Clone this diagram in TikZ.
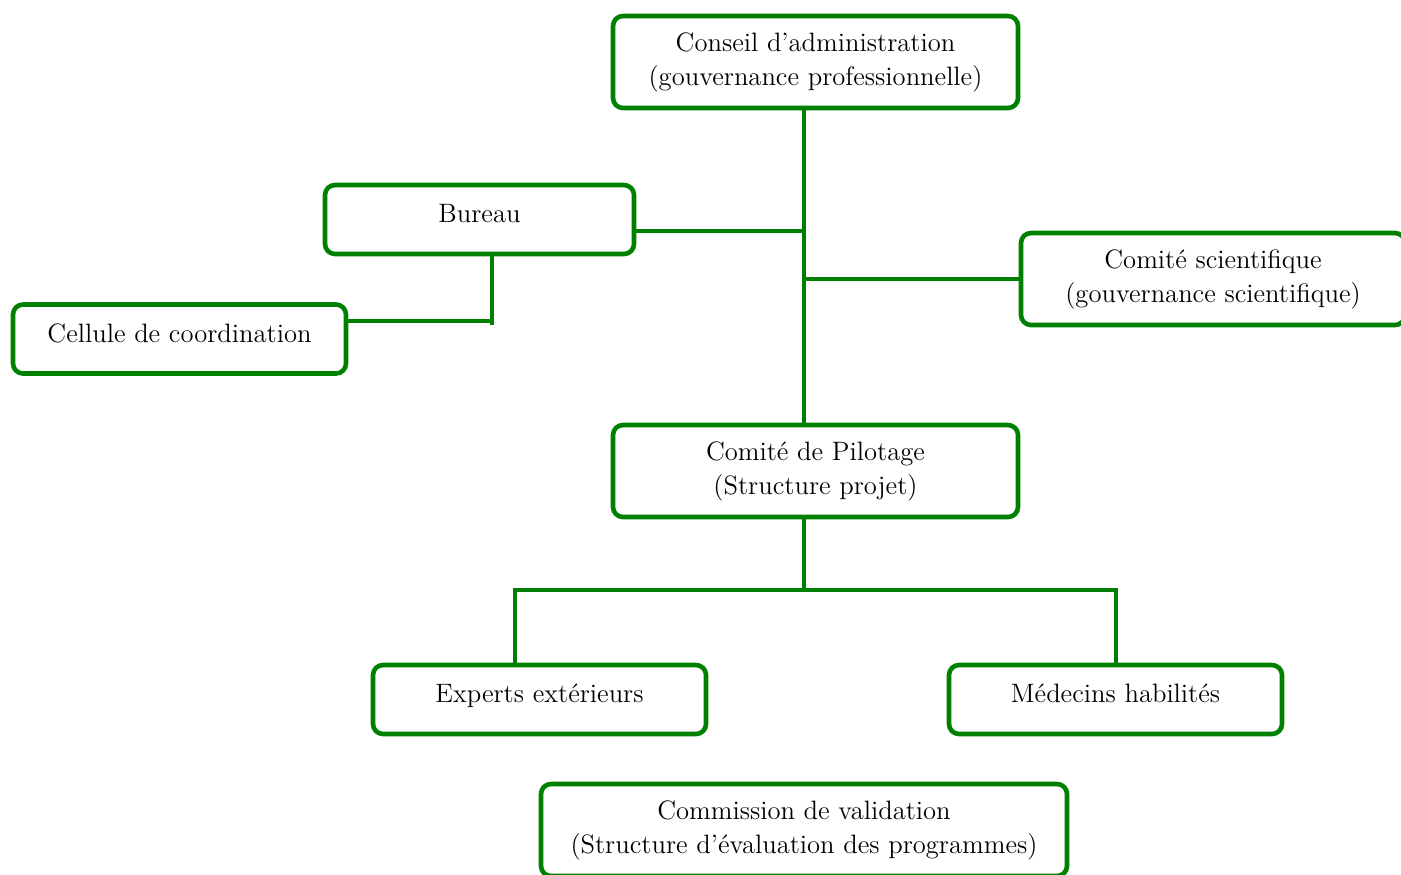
\documentclass[tikz,border=0pt]{standalone}
\usetikzlibrary{calc}
\definecolor{orggreen}{RGB}{0,128,0}
\tikzset{
  orgbox/.style={draw=orggreen, line width=2.3pt, rounded corners=5pt, align=center,
    inner sep=0pt, font=\fontsize{13.3}{17}\selectfont},
  tallbox/.style={orgbox, minimum width=#1, minimum height=46pt},
  lowbox/.style={orgbox, minimum width=#1, minimum height=34.5pt, text height=8pt, text depth=4.7pt},
  conn/.style={draw=orggreen, line width=2.1pt}
}
\begin{document}
\begin{tikzpicture}[x=0.5pt, y=-0.5pt]
\clip (0,0) rectangle (1401,874);
\node[tallbox=202.5pt] (conseil) at (815.5,62) {Conseil d’administration\\(gouvernance professionnelle)};
\node[lowbox=154.5pt] (bureau) at (479.5,219.5) {Bureau};
\node[lowbox=166.5pt] (cellule) at (179.5,339) {Cellule de coordination};
\node[tallbox=192pt] (sci) at (1213,279) {Comité scientifique\\(gouvernance scientifique)};
\node[tallbox=202.5pt] (pilotage) at (815.5,471) {Comité de Pilotage\\(Structure projet)};
\node[lowbox=166.5pt] (experts) at (539.5,699.5) {Experts extérieurs};
\node[lowbox=166.5pt] (medecins) at (1115.5,699.5) {Médecins habilités};
\node[tallbox=263pt] (commission) at (804,830) {Commission de validation\\(Structure d’évaluation des programmes)};

\coordinate (spine) at (804,0);
\coordinate (bj) at (804,231);
\coordinate (cj) at (492,321);
\coordinate (cjb) at (492,325);
\coordinate (pj) at (804,590);
\coordinate (ej) at (515,590);
\coordinate (mj) at (1116,590);

\draw[conn] (conseil.south -| spine) -- (pilotage.north -| spine);
\draw[conn] (bureau.east |- bj) -- (bj);
\draw[conn] (sci.west) -- (sci.west -| spine);
\draw[conn] (bureau.south -| cjb) -- (cjb);
\draw[conn] (cellule.east |- cj) -- (cj);
\draw[conn] (pilotage.south -| pj) -- (pj);
\draw[conn, line cap=rect] (ej) -- (mj);
\draw[conn] (ej) -- (experts.north -| ej);
\draw[conn] (mj) -- (medecins.north -| mj);
\end{tikzpicture}
\end{document}
